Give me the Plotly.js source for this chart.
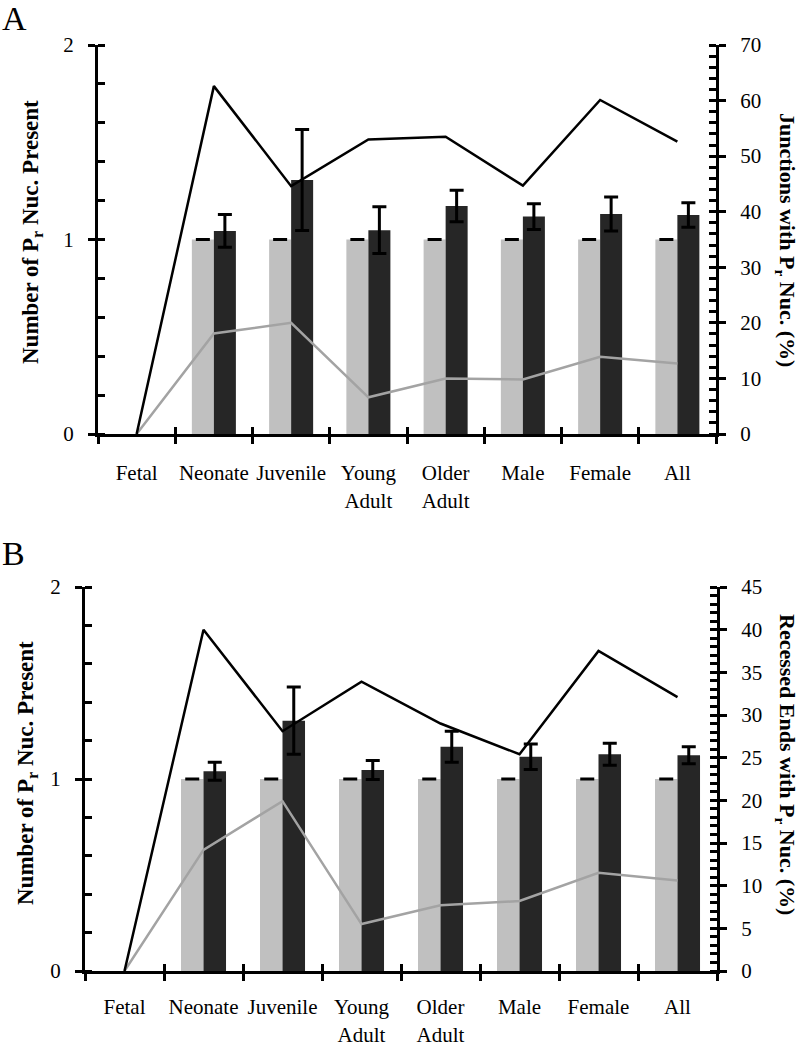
<!DOCTYPE html>
<html>
<head>
<meta charset="utf-8">
<script src="https://cdn.plot.ly/plotly-3.0.1.min.js"></script>
<style>html,body{margin:0;padding:0;background:#fff;}#chart{width:800px;height:1046px;}</style>
</head>
<body>
<div id="chart"></div>
<script>
// ---- data ----
const categories = ['Fetal', 'Neonate', 'Juvenile', 'Young<br>Adult', 'Older<br>Adult', 'Male', 'Female', 'All'];

// Panel A
const grayBarsA = [null, 1, 1, 1, 1, 1, 1, 1];
const grayErrA = [0, 0, 0, 0, 0, 0, 0, 0];
const darkBarsA = [null, 1.044, 1.306, 1.048, 1.172, 1.118, 1.131, 1.126];
const darkErrA = [0, 0.084, 0.26, 0.12, 0.081, 0.066, 0.087, 0.063];
const blackLineA = [0, 62.6, 44.6, 53.0, 53.5, 44.7, 60.1, 52.6];
const grayLineA = [0, 18.1, 20.0, 6.6, 10.0, 9.8, 13.9, 12.7];

// Panel B
const grayBarsB = [null, 1, 1, 1, 1, 1, 1, 1];
const grayErrB = [0, 0, 0, 0, 0, 0, 0, 0];
const darkBarsB = [null, 1.040, 1.304, 1.047, 1.168, 1.116, 1.129, 1.124];
const darkErrB = [0, 0.047, 0.175, 0.05, 0.081, 0.066, 0.057, 0.044];
const blackLineB = [0, 40.0, 28.1, 33.9, 29.0, 25.4, 37.5, 32.1];
const grayLineB = [0, 14.2, 19.9, 5.5, 7.7, 8.2, 11.5, 10.6];

// ---- styles ----
const FONT = 'Liberation Serif, Times New Roman, serif';
const GRAY_BAR = '#c0c0c0';
const DARK_BAR = '#262626';
const GRAY_LINE = '#a3a3a3';

function bar(y, err, color, xa, ya) {
  return {
    type: 'bar', x: categories, y: y, xaxis: xa, yaxis: ya,
    marker: {color: color, line: {width: 0}},
    error_y: {type: 'data', array: err, visible: true, color: '#000', thickness: 3, width: 7},
    hoverinfo: 'skip'
  };
}
function line(y, color, xa, ya) {
  return {
    type: 'scatter', mode: 'lines', x: categories, y: y, xaxis: xa, yaxis: ya,
    line: {color: color, width: 2.5}, hoverinfo: 'skip'
  };
}

const traces = [
  bar(grayBarsA, grayErrA, GRAY_BAR, 'x', 'y'),
  bar(darkBarsA, darkErrA, DARK_BAR, 'x', 'y'),
  line(grayLineA, GRAY_LINE, 'x', 'y3'),
  line(blackLineA, '#000', 'x', 'y3'),
  bar(grayBarsB, grayErrB, GRAY_BAR, 'x2', 'y2'),
  bar(darkBarsB, darkErrB, DARK_BAR, 'x2', 'y2'),
  line(grayLineB, GRAY_LINE, 'x2', 'y4'),
  line(blackLineB, '#000', 'x2', 'y4'),
  {type: 'scatter', x: [], y: [], xaxis: 'x5', yaxis: 'y', showlegend: false},
  {type: 'scatter', x: [], y: [], xaxis: 'x6', yaxis: 'y2', showlegend: false}
];

const tickFont = {family: FONT, size: 21, color: '#000'};
const domA = [98 / 800, 716 / 800];
const domB = [85 / 800, 717 / 800];
const ydomA = [1 - 434 / 1046, 1 - 45 / 1046];
const ydomB = [1 - 971 / 1046, 1 - 587 / 1046];

function catAxis(dom, anchor, standoff) {
  return {
    type: 'category', domain: dom, anchor: anchor, range: [-0.5, 7.5],
    tickson: 'boundaries', ticks: 'outside', ticklen: 7, tickwidth: 3, tickcolor: '#000',
    showline: true, linewidth: 3, linecolor: '#000', showgrid: false, zeroline: false,
    tickangle: 0, tickfont: tickFont, ticklabelstandoff: standoff, fixedrange: true
  };
}
function innerX(overlay, anchor) {
  return {
    overlaying: overlay, anchor: anchor, range: [-0.5, 7.5], tick0: -0.5, dtick: 1,
    ticks: 'inside', ticklen: 7, tickwidth: 3, tickcolor: '#000', showticklabels: false,
    showline: false, showgrid: false, zeroline: false, fixedrange: true
  };
}
function leftY(dom, anchor) {
  return {
    domain: dom, anchor: anchor, range: [0, 2], dtick: 1, tick0: 0,
    ticks: 'outside', ticklen: 7, tickwidth: 3, tickcolor: '#000',
    minor: {ticks: 'inside', ticklen: 7, tickwidth: 3, tickcolor: '#000', dtick: 0.2, tick0: 0, showgrid: false},
    showline: true, linewidth: 3, linecolor: '#000', showgrid: false, zeroline: false,
    tickfont: tickFont, ticklabelstandoff: 10, fixedrange: true
  };
}
function rightY(overlay, anchor, max, major, minor) {
  return {
    overlaying: overlay, anchor: anchor, side: 'right', range: [0, max], dtick: major, tick0: 0,
    ticks: 'outside', ticklen: 7, tickwidth: 3, tickcolor: '#000',
    minor: {ticks: 'inside', ticklen: 7, tickwidth: 3, tickcolor: '#000', dtick: minor, tick0: 0, showgrid: false},
    showline: true, linewidth: 3, linecolor: '#000', showgrid: false, zeroline: false,
    tickfont: tickFont, ticklabelstandoff: 10, fixedrange: true
  };
}

const leftTitleFont = {family: FONT, size: 23, color: '#000'};
const rightTitleFont = {family: FONT, size: 22, color: '#000'};
const letterFont = {family: FONT, size: 34, color: '#000'};
const layout = {
  width: 800, height: 1046,
  margin: {l: 0, r: 0, t: 0, b: 0},
  paper_bgcolor: '#fff', plot_bgcolor: 'rgba(0,0,0,0)',
  showlegend: false,
  barmode: 'group', bargap: 0.43, bargroupgap: 0,
  font: {family: FONT, color: '#000'},
  xaxis: catAxis(domA, 'y', 18),
  xaxis2: catAxis(domB, 'y2', 15),
  xaxis5: innerX('x', 'y'),
  xaxis6: innerX('x2', 'y2'),
  yaxis: leftY(ydomA, 'x'),
  yaxis2: leftY(ydomB, 'x2'),
  yaxis3: rightY('y', 'x', 70, 10, 2),
  yaxis4: rightY('y2', 'x2', 45, 5, 1),
  annotations: [
    {text: 'A', xref: 'paper', yref: 'paper', x: 0, y: 1 + 2 / 1046, xanchor: 'left', yanchor: 'top', showarrow: false, font: letterFont},
    {text: 'B', xref: 'paper', yref: 'paper', x: 0, y: 1 - 533 / 1046, xanchor: 'left', yanchor: 'top', showarrow: false, font: letterFont},
    {text: '<b>Number of P<sub>r</sub> Nuc. Present</b>', xref: 'paper', yref: 'paper', x: 32 / 800, y: 1 - 232 / 1046, xanchor: 'center', yanchor: 'middle', textangle: -90, showarrow: false, font: leftTitleFont},
    {text: '<b>Junctions with P<sub>r</sub> Nuc. (%)</b>', xref: 'paper', yref: 'paper', x: 786 / 800, y: 1 - 240 / 1046, xanchor: 'center', yanchor: 'middle', textangle: 90, showarrow: false, font: rightTitleFont},
    {text: '<b>Number of P<sub>r</sub> Nuc. Present</b>', xref: 'paper', yref: 'paper', x: 27 / 800, y: 1 - 773 / 1046, xanchor: 'center', yanchor: 'middle', textangle: -90, showarrow: false, font: leftTitleFont},
    {text: '<b>Recessed Ends with P<sub>r</sub> Nuc. (%)</b>', xref: 'paper', yref: 'paper', x: 786 / 800, y: 1 - 764 / 1046, xanchor: 'center', yanchor: 'middle', textangle: 90, showarrow: false, font: rightTitleFont}
  ]
};

Plotly.newPlot('chart', traces, layout, {staticPlot: true, displayModeBar: false});
</script>
</body>
</html>
